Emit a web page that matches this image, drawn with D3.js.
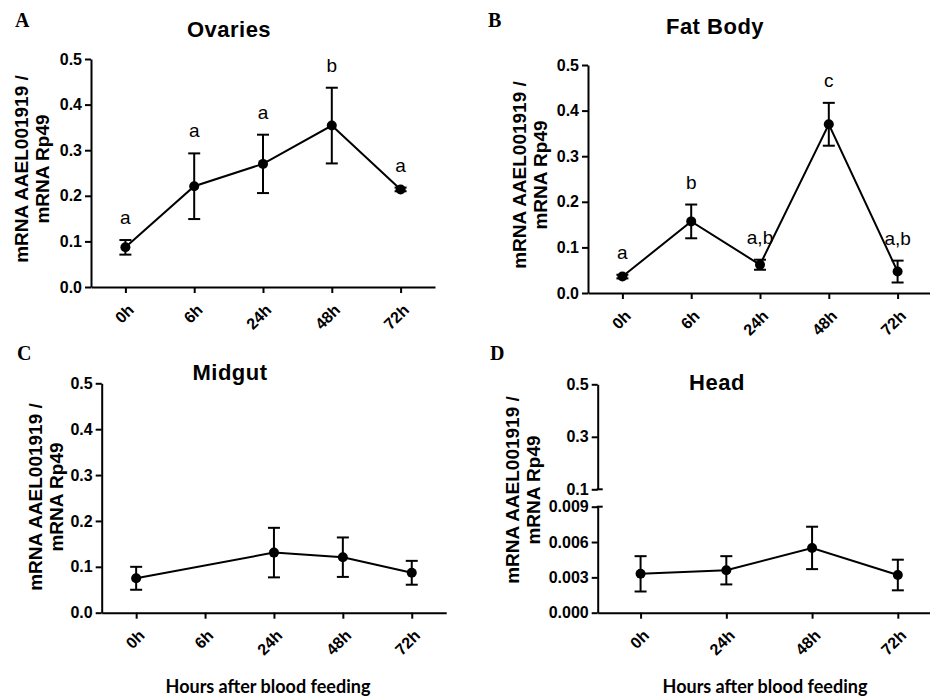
<!DOCTYPE html>
<html>
<head>
<meta charset="utf-8">
<script src="https://cdn.jsdelivr.net/npm/d3@7"></script>
<style>
  body { margin: 0; background: #fff; }
  svg { display: block; }
</style>
</head>
<body>
<div id="chart"></div>
<script>
// values (mean, SEM)
const hours = ["0h", "6h", "24h", "48h", "72h"];
const hoursHead = ["0h", "24h", "48h", "72h"];

const ovariesMean = [0.087, 0.221, 0.270, 0.354, 0.214];
const ovariesSem = [0.016, 0.072, 0.064, 0.083, 0.004];
const ovariesLetters = ["a", "a", "a", "b", "a"];

const fatBodyMean = [0.036, 0.157, 0.062, 0.370, 0.047];
const fatBodySem = [0.004, 0.037, 0.011, 0.047, 0.024];
const fatBodyLetters = ["a", "b", "a,b", "c", "a,b"];

const midgutMean = [0.075, null, 0.131, 0.121, 0.087];
const midgutSem = [0.025, null, 0.054, 0.043, 0.026];

const headMean = [0.0033, 0.0036, 0.0055, 0.0032];
const headSem = [0.0015, 0.0012, 0.0018, 0.0013];

const yTicks = [0, 0.1, 0.2, 0.3, 0.4, 0.5];
const headTicksUpper = [0.1, 0.3, 0.5];
const headTicksLower = [0, 0.003, 0.006, 0.009];

const yLabel = ["mRNA AAEL001919 /", "mRNA Rp49"];
const xLabel = "Hours after blood feeding";

var W = 930, H = 697;
var svg = d3.select("#chart").append("svg")
    .attr("width", W)
    .attr("height", H);
svg.append("rect").attr("width", W).attr("height", H).attr("fill", "#fff");

var sans = "'Liberation Sans', Arial, sans-serif";

const styleAxis = (g) => {
    g.attr("font-family", sans)
        .attr("font-size", 16)
        .attr("font-weight", "bold");
    g.select(".domain").attr("stroke", "#000").attr("stroke-width", 2);
    g.selectAll(".tick line").attr("stroke", "#000").attr("stroke-width", 2);
    g.selectAll(".tick text").attr("fill", "#000");
}

const drawXAxis = (g, x, h) => {
    var ax = g.append("g")
        .attr("transform", "translate(0," + h + ")")
        .call(d3.axisBottom(x).tickSize(6).tickSizeOuter(0));
    styleAxis(ax);
    ax.selectAll(".tick text")
        .attr("x", 0).attr("y", 0).attr("dy", "0.35em")
        .attr("text-anchor", "end")
        .attr("transform", "translate(5,20) rotate(-45)");
}

const drawMarks = (g, x, y, cats, mean, sem, letters) => {
    var rows = cats.map((c, i) => ({ cat: c, m: mean[i], s: sem[i], l: letters ? letters[i] : null }))
        .filter(d => d.m !== null);

    var line = d3.line().x(d => x(d.cat)).y(d => y(d.m));
    g.append("path")
        .datum(rows)
        .attr("d", line)
        .attr("fill", "none")
        .attr("stroke", "#000")
        .attr("stroke-width", 2);

    var eb = g.selectAll(".eb").data(rows).enter().append("g");
    eb.append("line")
        .attr("x1", d => x(d.cat)).attr("x2", d => x(d.cat))
        .attr("y1", d => y(d.m - d.s)).attr("y2", d => y(d.m + d.s));
    eb.append("line")
        .attr("x1", d => x(d.cat) - 6).attr("x2", d => x(d.cat) + 6)
        .attr("y1", d => y(d.m + d.s)).attr("y2", d => y(d.m + d.s));
    eb.append("line")
        .attr("x1", d => x(d.cat) - 6).attr("x2", d => x(d.cat) + 6)
        .attr("y1", d => y(d.m - d.s)).attr("y2", d => y(d.m - d.s));
    eb.selectAll("line").attr("stroke", "#000").attr("stroke-width", 2);

    g.selectAll(".pt").data(rows).enter().append("circle")
        .attr("cx", d => x(d.cat))
        .attr("cy", d => y(d.m))
        .attr("r", 5)
        .attr("fill", "#000");

    if (letters) {
        g.selectAll(".lt").data(rows).enter().append("text")
            .attr("x", d => x(d.cat))
            .attr("y", d => y(d.m + d.s) - 16)
            .attr("text-anchor", "middle")
            .style("font-family", sans)
            .style("font-size", "19px")
            .text(d => d.l);
    }
}

const drawTexts = (p) => {
    svg.append("text")
        .attr("x", p.tag[0]).attr("y", p.tag[1])
        .style("font-family", "'Liberation Serif', 'Times New Roman', serif")
        .style("font-size", "20px")
        .style("font-weight", "bold")
        .text(p.letter);

    svg.append("text")
        .attr("x", p.title[0]).attr("y", p.title[1])
        .attr("text-anchor", "middle")
        .style("font-family", sans)
        .style("font-size", "22px")
        .style("letter-spacing", "0.5px")
        .style("font-weight", "bold")
        .text(p.name);

    var yl = svg.append("text")
        .attr("transform", "translate(" + p.ylab[0] + "," + p.ylab[1] + ") rotate(-90)")
        .attr("text-anchor", "middle")
        .style("font-family", sans)
        .style("font-size", "19px")
        .style("font-weight", "bold");
    yLabel.forEach((t, i) => {
        yl.append("tspan").attr("x", 0).attr("dy", i === 0 ? 0 : 21).text(t);
    });

    if (p.xlab) {
        svg.append("text")
            .attr("x", p.xlab[0]).attr("y", p.xlab[1])
            .attr("text-anchor", "middle")
            .style("font-family", "Lato, 'Open Sans', sans-serif")
            .style("font-size", "18px")
            .style("font-weight", "bold")
            .text(xLabel);
    }
}

// standard panels (A, B, C)
const drawPanel = (p) => {
    var g = svg.append("g").attr("transform", "translate(" + p.left + "," + p.top + ")");
    var w = p.width, h = p.height;

    var x = d3.scalePoint().domain(p.cats).range([0, w]).padding(0.5);
    var y = d3.scaleLinear().domain([0, 0.5]).range([h, 0]);

    var ay = g.append("g")
        .call(d3.axisLeft(y).tickValues(yTicks).tickFormat(d3.format(".1f")).tickSize(6).tickSizeOuter(0));
    styleAxis(ay);
    ay.selectAll(".tick text").attr("x", -9);

    drawXAxis(g, x, h);
    drawMarks(g, x, y, p.cats, p.mean, p.sem, p.letters);
    drawTexts(p);
}

// head panel with broken y axis
const drawHead = (p) => {
    var g = svg.append("g").attr("transform", "translate(" + p.left + ",0)");
    var w = p.width;

    var x = d3.scalePoint().domain(p.cats).range([0, w]).padding(0.5);
    var yUp = d3.scaleLinear().domain([0.1, 0.5]).range([489.3, 384.3]);
    var yLo = d3.scaleLinear().domain([0, 0.009]).range([612.7, 506.7]);

    var au = g.append("g")
        .call(d3.axisLeft(yUp).tickValues(headTicksUpper).tickFormat(d3.format(".1f")).tickSize(6).tickSizeOuter(0));
    styleAxis(au);
    au.selectAll(".tick text").attr("x", -9);

    var al = g.append("g")
        .call(d3.axisLeft(yLo).tickValues(headTicksLower).tickFormat(d3.format(".3f")).tickSize(6).tickSizeOuter(0));
    styleAxis(al);
    al.selectAll(".tick text").attr("x", -9);

    // break caps
    [yUp(0.1), yLo(0.009)].forEach(v => {
        g.append("line")
            .attr("x1", -1).attr("x2", 5)
            .attr("y1", v).attr("y2", v)
            .attr("stroke", "#000").attr("stroke-width", 2);
    });

    var gx = g.append("g");
    drawXAxis(gx, x, yLo(0));
    drawMarks(g, x, yLo, p.cats, p.mean, p.sem, null);
    drawTexts(p);
}

drawPanel({
    letter: "A", name: "Ovaries", left: 91, top: 59, width: 344, height: 228,
    cats: hours, mean: ovariesMean, sem: ovariesSem, letters: ovariesLetters,
    tag: [15, 27], title: [229, 37], ylab: [28, 169]
});

drawPanel({
    letter: "B", name: "Fat Body", left: 588, top: 65, width: 344, height: 228,
    cats: hours, mean: fatBodyMean, sem: fatBodySem, letters: fatBodyLetters,
    tag: [488, 27], title: [715, 34], ylab: [526, 175]
});

drawPanel({
    letter: "C", name: "Midgut", left: 101.7, top: 383.3, width: 344.5, height: 229.4,
    cats: hours, mean: midgutMean, sem: midgutSem, letters: null,
    tag: [17, 360], title: [230, 380], ylab: [42, 497], xlab: [268, 693]
});

drawHead({
    letter: "D", name: "Head", left: 597.7, width: 343,
    cats: hoursHead, mean: headMean, sem: headSem,
    tag: [490, 360], title: [717, 390], ylab: [519, 490], xlab: [765, 693]
});
</script>
</body>
</html>
